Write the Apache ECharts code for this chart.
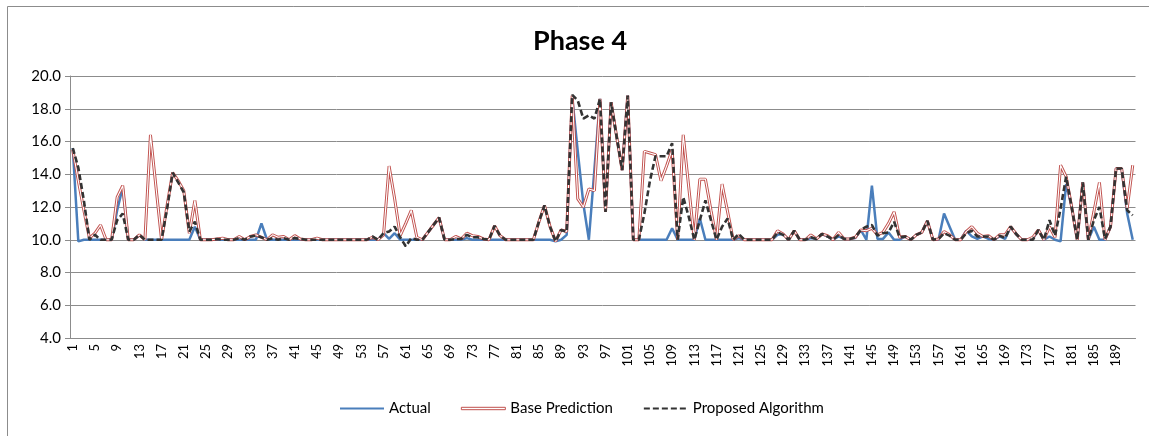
<!DOCTYPE html>
<html>
<head>
<meta charset="utf-8">
<script src="https://cdn.jsdelivr.net/npm/echarts@6/dist/echarts.min.js"></script>
<style>
  html, body { margin: 0; padding: 0; background: #fff; }
  #chart { width: 1149px; height: 436px; }
</style>
</head>
<body>
<div id="chart"></div>
<script>
// sample numbers 1..192
const categories = []
for (let i = 1; i <= 192; i++) categories.push(String(i))

const actual = [
  15.6, 9.9, 10.0, 10.0, 10.0, 10.0, 10.0, 10.0, 11.8, 13.2,
  10.0, 10.0, 10.3, 10.0, 10.0, 10.0, 10.0, 10.0, 10.0, 10.0,
  10.0, 10.0, 10.8, 10.0, 10.0, 10.0, 10.0, 10.0, 10.0, 10.0,
  10.0, 10.0, 10.0, 10.0, 11.0, 10.0, 10.0, 10.0, 10.0, 10.0,
  10.0, 10.0, 10.0, 10.0, 10.0, 10.0, 10.0, 10.0, 10.0, 10.0,
  10.0, 10.0, 10.0, 10.0, 10.0, 10.0, 10.4, 10.05, 10.4, 10.0,
  10.0, 10.0, 10.0, 10.0, 10.45, 10.9, 11.35, 10.0, 10.0, 10.0,
  10.0, 10.1, 10.0, 10.0, 10.0, 10.0, 10.0, 10.0, 10.0, 10.0,
  10.0, 10.0, 10.0, 10.0, 10.0, 10.0, 10.0, 9.9, 10.0, 10.3,
  18.7, 15.4, 12.2, 10.0, 14.3, 18.6, 11.7, 18.4, 16.3, 14.25,
  18.8, 10.0, 10.0, 10.0, 10.0, 10.0, 10.0, 10.0, 10.7, 10.0,
  10.0, 10.0, 10.0, 11.3, 10.0, 10.0, 10.0, 10.0, 10.0, 10.0,
  10.1, 10.0, 10.0, 10.0, 10.0, 10.0, 10.0, 10.3, 10.35, 10.0,
  10.55, 10.0, 10.0, 10.1, 10.05, 10.35, 10.2, 10.0, 10.2, 10.05,
  10.05, 10.1, 10.6, 10.0, 13.3, 10.05, 10.05, 10.45, 10.0, 10.0,
  10.2, 10.0, 10.3, 10.45, 11.15, 10.0, 10.0, 11.6, 10.8, 10.0,
  10.0, 10.55, 10.2, 10.05, 10.2, 10.05, 10.0, 10.2, 10.05, 10.8,
  10.35, 10.0, 10.0, 10.05, 10.6, 10.0, 10.2, 10.0, 9.9, 13.4,
  12.0, 10.0, 13.5, 10.0, 10.8, 10.0, 10.0, 10.8, 14.35, 14.35,
  11.6, 10.0
]

const basePrediction = [
  15.5, 13.6, 11.8, 10.1, 10.4, 10.9, 10.0, 10.0, 12.6, 13.3,
  10.0, 10.0, 10.3, 10.0, 16.4, 13.2, 10.0, 12.1, 14.1, 13.6,
  13.0, 10.4, 12.4, 10.0, 10.0, 10.0, 10.05, 10.1, 10.0, 10.0,
  10.2, 10.0, 10.2, 10.3, 10.15, 10.0, 10.3, 10.15, 10.2, 10.0,
  10.25, 10.05, 10.0, 10.0, 10.1, 10.0, 10.0, 10.0, 10.0, 10.0,
  10.0, 10.0, 10.0, 10.0, 10.15, 10.0, 10.3, 14.5, 12.5, 10.25,
  11.0, 11.8, 10.15, 10.0, 10.45, 10.9, 11.35, 10.0, 10.0, 10.2,
  10.05, 10.4, 10.25, 10.2, 10.05, 10.0, 10.85, 10.25, 10.0, 10.0,
  10.0, 10.0, 10.0, 10.0, 11.1, 12.1, 10.8, 9.9, 10.6, 10.5,
  18.8, 12.5, 12.0, 13.1, 13.0, 18.6, 11.7, 18.4, 16.3, 14.25,
  18.8, 10.0, 10.0, 15.4, 15.3, 15.2, 13.6, 14.5, 15.5, 10.0,
  16.4, 13.2, 10.0, 13.7, 13.7, 11.8, 10.0, 13.4, 11.7, 10.0,
  10.25, 10.0, 10.0, 10.0, 10.0, 10.0, 10.0, 10.55, 10.35, 10.0,
  10.55, 10.0, 10.0, 10.3, 10.05, 10.35, 10.25, 10.0, 10.45, 10.05,
  10.05, 10.15, 10.6, 10.55, 10.7, 10.3, 10.45, 11.0, 11.7, 10.15,
  10.2, 10.0, 10.3, 10.45, 11.15, 10.0, 10.05, 10.5, 10.3, 10.0,
  10.0, 10.5, 10.8, 10.4, 10.2, 10.25, 10.0, 10.3, 10.3, 10.8,
  10.35, 10.0, 10.0, 10.15, 10.6, 10.0, 10.8, 10.15, 14.55, 13.85,
  12.0, 10.0, 13.5, 10.0, 11.7, 13.5, 10.0, 10.8, 14.35, 14.35,
  11.9, 14.55
]

const proposed = [
  15.6, 14.4, 12.4, 10.0, 10.3, 10.0, 10.0, 10.0, 11.2, 11.6,
  10.0, 10.0, 10.3, 10.0, 10.0, 10.0, 10.0, 11.9, 14.1, 13.5,
  12.9, 10.5, 11.1, 10.0, 10.0, 10.0, 10.05, 10.0, 10.0, 10.0,
  10.1, 10.0, 10.2, 10.25, 10.15, 10.0, 10.1, 10.0, 10.1, 10.0,
  10.1, 10.05, 10.0, 10.0, 10.0, 10.0, 10.0, 10.0, 10.0, 10.0,
  10.0, 10.0, 10.0, 10.0, 10.2, 10.0, 10.4, 10.5, 10.8, 10.15,
  9.6, 10.1, 10.0, 10.0, 10.45, 10.9, 11.35, 10.0, 10.0, 10.05,
  10.05, 10.3, 10.15, 10.15, 10.05, 10.0, 10.85, 10.25, 10.0, 10.0,
  10.0, 10.0, 10.0, 10.0, 11.1, 12.1, 10.8, 9.9, 10.6, 10.5,
  18.85, 18.5, 17.4, 17.6, 17.4, 18.6, 11.7, 18.4, 16.3, 14.25,
  18.8, 10.0, 10.0, 11.6, 13.6, 15.1, 15.1, 15.1, 15.9, 10.0,
  12.6, 11.4, 10.0, 11.2, 12.4, 11.2, 10.0, 10.8, 11.3, 10.0,
  10.35, 10.0, 10.0, 10.0, 10.0, 10.0, 10.0, 10.45, 10.3, 10.0,
  10.55, 10.0, 10.0, 10.15, 10.05, 10.35, 10.2, 10.0, 10.3, 10.05,
  10.05, 10.15, 10.6, 10.8, 10.9, 10.25, 10.4, 10.45, 11.1, 10.15,
  10.2, 10.0, 10.3, 10.45, 11.15, 10.0, 10.05, 10.4, 10.25, 10.0,
  10.0, 10.4, 10.55, 10.2, 10.2, 10.2, 10.0, 10.25, 10.1, 10.8,
  10.35, 10.0, 10.0, 10.0, 10.6, 10.0, 11.2, 10.25, 11.9, 13.85,
  12.0, 10.0, 13.5, 10.0, 11.2, 12.0, 10.05, 10.8, 14.35, 14.35,
  11.8, 11.5
]

const FONT = "Lato, 'Liberation Sans', sans-serif"
const gridColor = "#8c8c8c"

// double-line legend swatch: tiny corner ticks keep the bar thin inside a 44x14 box
const doubleIcon = "path://M0,0L0.01,0M0,5.8L44,5.8L44,8.2L0,8.2ZM44,14L43.99,14"

const chart = echarts.init(document.getElementById("chart"))

chart.setOption({
  animation: false,
  backgroundColor: "#fff",
  textStyle: { fontFamily: FONT, color: "#000" },
  graphic: [{
    type: "rect",
    shape: { x: 7.5, y: 6.5, width: 1160, height: 440 },
    style: { fill: "none", stroke: "#8c8c8c", lineWidth: 1 },
    silent: true
  }],
  title: {
    text: "Phase 4",
    left: 528,
    top: 23,
    textStyle: { fontFamily: FONT, fontSize: 27, fontWeight: "bold", color: "#000" }
  },
  legend: {
    bottom: 15,
    left: 334,
    itemWidth: 44,
    itemHeight: 14,
    itemGap: 30,
    itemStyle: { opacity: 0 },
    textStyle: { fontFamily: FONT, fontSize: 15, color: "#000" },
    data: [
      { name: "Actual" },
      { name: "Base Prediction", icon: doubleIcon,
        itemStyle: { opacity: 1, color: "#fff", borderColor: "#c0504d", borderWidth: 1 } },
      { name: "Proposed Algorithm" }
    ]
  },
  grid: { left: 70, right: 13.5, top: 76, bottom: 98 },
  xAxis: {
    type: "category",
    data: categories,
    boundaryGap: true,
    axisLine: { lineStyle: { color: gridColor, width: 1 } },
    axisTick: { interval: 0, length: 4, lineStyle: { color: gridColor } },
    axisLabel: { interval: 3, rotate: 90, fontSize: 13, color: "#000", margin: 6 }
  },
  yAxis: {
    type: "value",
    min: 4,
    max: 20,
    interval: 2,
    axisLine: { show: true, lineStyle: { color: gridColor, width: 1 } },
    axisTick: { show: true, length: 5, lineStyle: { color: gridColor } },
    axisLabel: { fontSize: 15, color: "#000", margin: 9, formatter: (v) => v.toFixed(1) },
    splitLine: { lineStyle: { color: gridColor, width: 1 } }
  },
  series: [
    {
      name: "Actual",
      type: "line",
      data: actual,
      symbol: "none",
      color: "#4a7ebb",
      lineStyle: { color: "#4a7ebb", width: 2.5 }
    },
    {
      name: "Base Prediction",
      type: "line",
      data: basePrediction,
      symbol: "none",
      color: "#c0504d",
      lineStyle: { color: "#c0504d", width: 3 }
    },
    {
      name: "bp-inner",
      type: "line",
      data: basePrediction,
      symbol: "none",
      silent: true,
      lineStyle: { color: "#fff", width: 1.1 }
    },
    {
      name: "Proposed Algorithm",
      type: "line",
      data: proposed,
      symbol: "none",
      color: "#333",
      lineStyle: { color: "#333", width: 2.6, type: [6, 3] }
    }
  ]
})
</script>
</body>
</html>
